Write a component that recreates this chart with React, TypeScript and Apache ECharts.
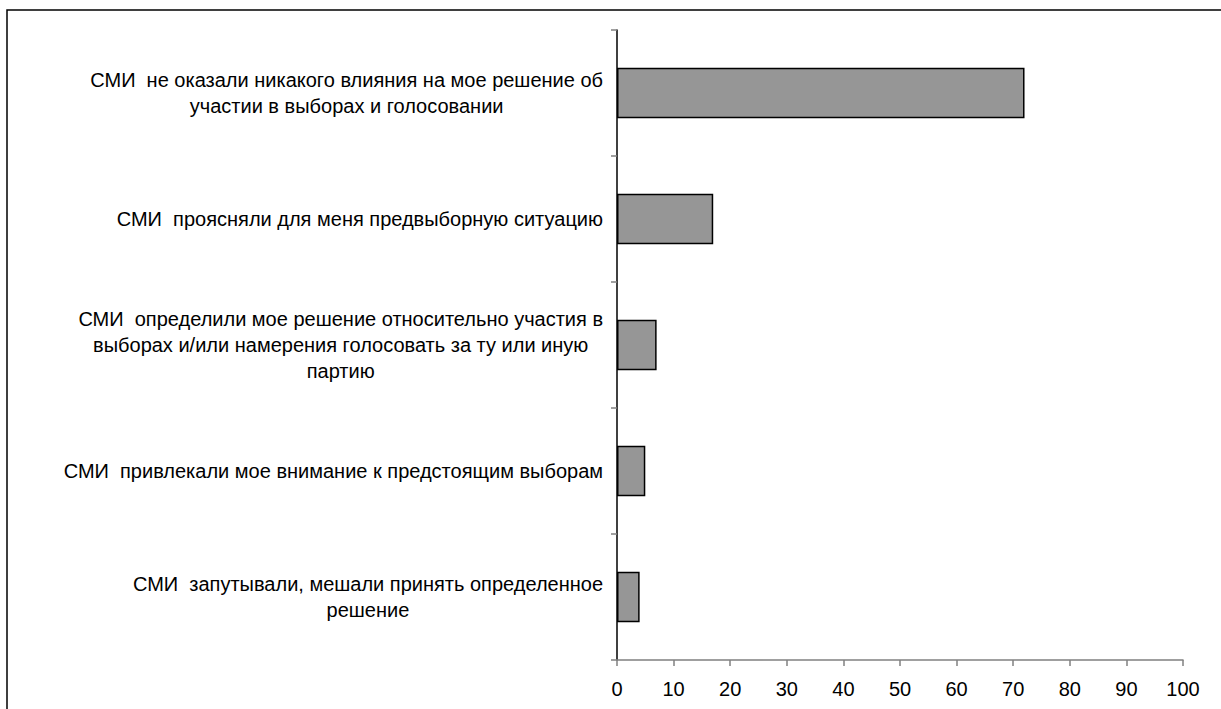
import React, { useEffect, useRef } from "react";
import * as echarts from "echarts";

const categories: string[][] = [
  ["СМИ  не оказали никакого влияния на мое решение об", "участии в выборах и голосовании"],
  ["СМИ  проясняли для меня предвыборную ситуацию"],
  ["СМИ  определили мое решение относительно участия в", "выборах и/или намерения голосовать за ту или иную", "партию"],
  ["СМИ  привлекали мое внимание к предстоящим выборам"],
  ["СМИ  запутывали, мешали принять определенное", "решение"],
];
const values: number[] = [72, 17, 7, 5, 4];
const xTicks = { min: 0, max: 100, interval: 10 };

export default function App() {
  const ref = useRef<HTMLDivElement>(null);
  useEffect(() => {
    document.body.style.margin = "0";
    const chart = echarts.init(ref.current!, null, { renderer: "svg" });
    const font = "Arial, 'Liberation Sans', sans-serif";
    chart.setOption({
      animation: false,
      backgroundColor: "#ffffff",
      grid: { left: 617, right: 38, top: 30, bottom: 49, containLabel: false },
      xAxis: {
        type: "value",
        min: xTicks.min,
        max: xTicks.max,
        interval: xTicks.interval,
        splitLine: { show: false },
        axisLine: { show: true, lineStyle: { color: "#808080", width: 1.5 } },
        axisTick: { show: true, length: 6, lineStyle: { color: "#808080", width: 1.5 } },
        axisLabel: { color: "#000", fontSize: 20, fontFamily: font, margin: 19 },
      },
      yAxis: {
        type: "category",
        inverse: true,
        data: categories.map((c) => c.join("\n")),
        axisLine: { show: true, lineStyle: { color: "#000", width: 1.5 } },
        axisTick: { show: true, length: 6, lineStyle: { color: "#808080", width: 1.5 } },
        axisLabel: {
          color: "#000",
          fontSize: 20,
          fontFamily: font,
          margin: 14,
          align: "right",
          lineHeight: 26,
          formatter: (v: string) =>
            v.split("\n").map((l) => "{c|" + l + "}").join("\n"),
          rich: {
            c: { align: "center", fontSize: 20, fontFamily: font, color: "#000", lineHeight: 26 },
          },
        },
      },
      series: [
        {
          type: "bar",
          data: values,
          barWidth: "40%",
          itemStyle: { color: "#969696", borderColor: "#000", borderWidth: 1.5 },
        },
      ],
      graphic: [
        {
          type: "rect",
          shape: { x: 7, y: 10, width: 1400, height: 900 },
          style: { fill: "none", stroke: "#000", lineWidth: 1.5 },
          silent: true,
        },
      ],
    });
    return () => chart.dispose();
  }, []);
  return <div ref={ref} style={{ width: 1221, height: 709 }} />;
}
